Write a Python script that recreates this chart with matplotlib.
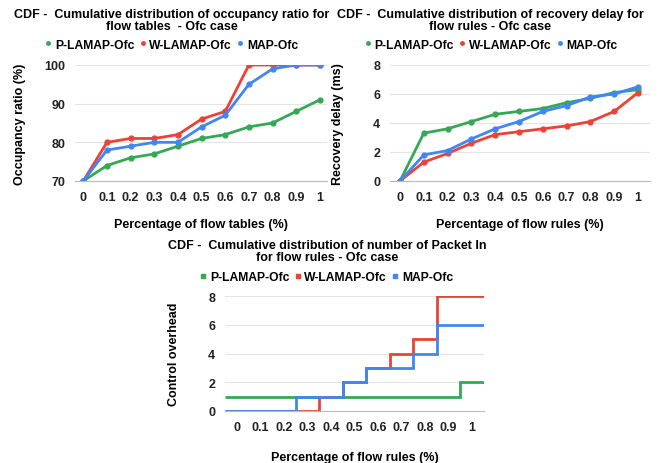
import numpy as np
import matplotlib
matplotlib.use("Agg")
import matplotlib.pyplot as plt
from matplotlib.lines import Line2D

plt.rcParams["font.family"] = ["Liberation Sans", "DejaVu Sans"]
plt.rcParams["font.weight"] = "bold"

categories = ["0", "0.1", "0.2", "0.3", "0.4", "0.5", "0.6", "0.7", "0.8", "0.9", "1"]
series_names = ["P-LAMAP-Ofc", "W-LAMAP-Ofc", "MAP-Ofc"]
colors = ["#34A853", "#EA4335", "#4285F4"]

# occupancy ratio (%)
occ_p = [70, 74, 76, 77, 79, 81, 82, 84, 85, 88, 91]
occ_w = [70, 80, 81, 81, 82, 86, 88, 100, 100, 100, 100]
occ_m = [70, 78, 79, 80, 80, 84, 87, 95, 99, 100, 100]

# recovery delay (ms)
rec_p = [0, 3.3, 3.6, 4.1, 4.6, 4.8, 5.0, 5.4, 5.7, 6.1, 6.3]
rec_w = [0, 1.3, 1.9, 2.6, 3.2, 3.4, 3.6, 3.8, 4.1, 4.8, 6.1]
rec_m = [0, 1.8, 2.1, 2.9, 3.6, 4.1, 4.8, 5.2, 5.8, 6.0, 6.5]

# control overhead (Packet In)
pin_p = [1, 1, 1, 1, 1, 1, 1, 1, 1, 1, 2]
pin_w = [0, 0, 0, 0, 1, 2, 3, 4, 5, 8, 8]
pin_m = [0, 0, 0, 1, 1, 2, 3, 3, 4, 6, 6]

W, H = 659, 464
fig = plt.figure(figsize=(W / 100, H / 100), dpi=100)


def px_axes(x0, x1, y0, y1):
    return fig.add_axes([x0 / W, 1 - y1 / H, (x1 - x0) / W, (y1 - y0) / H])


def style(ax, yticks, xlabel, ylabel, xpad, ypad):
    ax.set_xticks(range(len(categories)))
    ax.set_xticklabels(categories)
    ax.set_yticks(yticks)
    ax.set_ylim(yticks[0], yticks[-1])
    for s in ["top", "right", "left"]:
        ax.spines[s].set_visible(False)
    ax.spines["bottom"].set_color("#bbbbbb")
    ax.grid(axis="y", color="#e4e4e4", lw=0.8)
    ax.set_axisbelow(True)
    ax.tick_params(length=0, labelsize=9, pad=7, colors="#222222")
    ax.set_xlabel(xlabel, fontsize=9, labelpad=xpad, fontweight="bold")
    ax.set_ylabel(ylabel, fontsize=9, labelpad=ypad, fontweight="bold")


def legend(ax, marker, ms, x, y):
    handles = [Line2D([], [], ls="none", marker=marker, color=c, ms=ms) for c in colors]
    ax.legend(handles, series_names, loc="center", bbox_to_anchor=(x, y),
              ncol=3, frameon=False, handlelength=0.4,
              handletextpad=0.35, columnspacing=0.5,
              prop={"weight": "bold", "size": 8.7})


def title(ax, text, x):
    ax.set_title(text, fontsize=9, fontweight="bold", pad=26,
                 linespacing=0.95, x=x)


x = np.arange(len(categories))

# top left
ax1 = px_axes(75, 327, 66, 182)
for vals, c in zip([occ_p, occ_w, occ_m], colors):
    ax1.plot(x, vals, color=c, lw=2, marker="o", ms=3.5)
ax1.set_xlim(-0.35, 10.3)
style(ax1, [70, 80, 90, 100], "Percentage of flow tables (%)", "Occupancy ratio (%)", 11, 13)
legend(ax1, "o", 2.5, 0.385, 1.175)
title(ax1, "CDF -  Cumulative distribution of occupancy ratio for\nflow tables  - Ofc case", 0.385)

# top right
ax2 = px_axes(390, 650, 66, 182)
for vals, c in zip([rec_p, rec_w, rec_m], colors):
    ax2.plot(x, vals, color=c, lw=2, marker="o", ms=3.5)
ax2.set_xlim(-0.42, 10.5)
style(ax2, [0, 2, 4, 6, 8], "Percentage of flow rules (%)", "Recovery delay (ms)", 11, 21)
legend(ax2, "o", 2.5, 0.39, 1.175)
title(ax2, "CDF -  Cumulative distribution of recovery delay for\nflow rules - Ofc case", 0.385)

# bottom
ax3 = px_axes(225, 484, 297, 412)
edges = np.arange(len(categories) + 1) - 0.5
for vals, c in zip([pin_p, pin_w, pin_m], colors):
    ax3.stairs(vals, edges, color=c, lw=2, baseline=None)
ax3.set_xlim(edges[0], edges[-1])
style(ax3, [0, 2, 4, 6, 8], "Percentage of flow rules (%)", "Control overhead", 13, 20)
legend(ax3, "s", 3.5, 0.394, 1.165)
title(ax3, "CDF -  Cumulative distribution of number of Packet In\nfor flow rules - Ofc case", 0.394)

fig.savefig("out.png", dpi=100)
